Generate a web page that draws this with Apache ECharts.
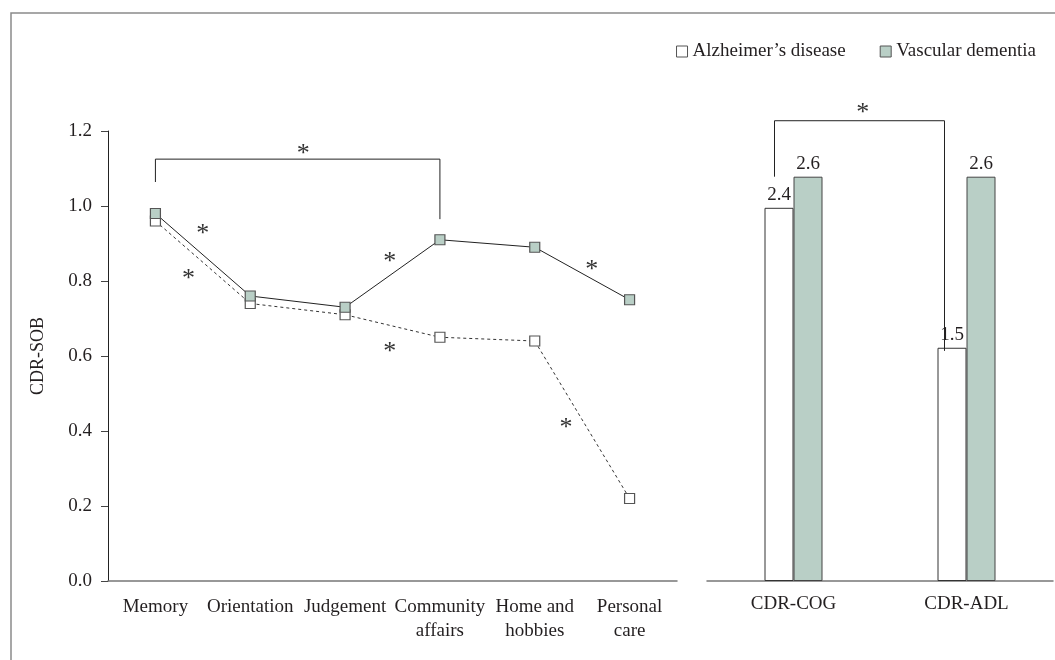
<!DOCTYPE html>
<html>
<head>
<meta charset="utf-8">
<script src="https://cdn.jsdelivr.net/npm/echarts@6/dist/echarts.min.js"></script>
<style>
html,body{margin:0;padding:0;background:#fff}
#main{width:1055px;height:660px}
</style>
</head>
<body>
<div id="main"></div>
<script>
var domains=['Memory','Orientation','Judgement','Community\naffairs','Home and\nhobbies','Personal\ncare']
var adLine=[0.96,0.74,0.71,0.65,0.64,0.22]
var vdLine=[0.98,0.76,0.73,0.91,0.89,0.75]
var cdrCats=['CDR-COG','CDR-ADL']
var adBar=[2.4,1.5]
var vdBar=[2.6,2.6]
var names=['Alzheimer\u2019s disease','Vascular dementia']

// significance marks, [category position, value]
var starsLeft=[[1.56,1.155],[0.5,0.94],[0.35,0.82],[2.47,0.867],[2.47,0.627],[4.6,0.845],[4.33,0.424]]
var bracketLeft={from:0,to:3,top:1.125,fromEnd:1.064,toEnd:0.965}
var bracketRight={top:2.96,fromEnd:2.6,toEnd:1.48}
var starRight=[0.4,3.05]

var font='Liberation Serif, DejaVu Serif, serif'
var ink='#231f20'
var green='#b9cfc6'

var myChart=echarts.init(document.getElementById('main'))

var option={
	animation:false,
	backgroundColor:'#fff',
	legend:{
		orient:'horizontal',
		right:14,
		top:37,
		icon:'rect',
		itemWidth:11,
		itemHeight:11,
		itemGap:34,
		textStyle:{fontFamily:font,fontSize:19,color:ink},
		data:[
			{name:names[0],itemStyle:{color:'#fff',borderColor:'#555',borderWidth:1}},
			{name:names[1],itemStyle:{color:green,borderColor:'#555',borderWidth:1}}
		]
	},
	grid:[
		{left:108,top:131,width:569,height:450},
		{left:707,top:114.5,width:346,height:466.5}
	],
	xAxis:[
		{
			type:'category',gridIndex:0,data:domains,
			axisLine:{lineStyle:{color:'#777',width:1.5}},
			axisTick:{show:false},
			axisLabel:{interval:0,margin:14,fontFamily:font,fontSize:19,color:ink,lineHeight:24}
		},
		{
			type:'category',gridIndex:1,data:cdrCats,
			axisLine:{lineStyle:{color:'#777',width:1.5}},
			axisTick:{show:false},
			axisLabel:{interval:0,margin:14,fontFamily:font,fontSize:19,color:ink}
		}
	],
	yAxis:[
		{
			type:'value',gridIndex:0,min:0,max:1.2,interval:0.2,
			name:'CDR-SOB',nameLocation:'middle',nameGap:61,nameRotate:90,
			nameTextStyle:{fontFamily:font,fontSize:18,color:ink},
			axisLine:{show:true,lineStyle:{color:'#222',width:1}},
			axisTick:{show:true,length:7,lineStyle:{color:'#444'}},
			splitLine:{show:false},
			axisLabel:{margin:16,fontFamily:font,fontSize:19,color:ink,formatter:function(v){return v.toFixed(1)}}
		},
		{type:'value',gridIndex:1,min:0,max:3,show:false}
	],
	series:[
		{
			name:names[0],type:'line',xAxisIndex:0,yAxisIndex:0,data:adLine,
			symbol:'rect',symbolSize:10,
			itemStyle:{color:'#fff',borderColor:'#555',borderWidth:1.2},
			lineStyle:{color:'#333',width:1,type:[3,3]}
		},
		{
			name:names[1],type:'line',xAxisIndex:0,yAxisIndex:0,data:vdLine,
			symbol:'rect',symbolSize:10,
			itemStyle:{color:green,borderColor:'#555',borderWidth:1.2},
			lineStyle:{color:'#222',width:1}
		},
		{
			name:names[0],type:'bar',xAxisIndex:1,yAxisIndex:1,data:adBar,
			barWidth:29,barGap:'0%',
			itemStyle:{color:'#fff',borderColor:'#333',borderWidth:1},
			label:{show:true,position:'top',distance:3,fontFamily:font,fontSize:19,color:ink,formatter:function(p){return p.value.toFixed(1)}}
		},
		{
			name:names[1],type:'bar',xAxisIndex:1,yAxisIndex:1,data:vdBar,
			barWidth:29,barGap:'0%',
			itemStyle:{color:green,borderColor:'#444',borderWidth:1},
			label:{show:true,position:'top',distance:3,fontFamily:font,fontSize:19,color:ink,formatter:function(p){return p.value.toFixed(1)}}
		}
	]
}
myChart.setOption(option)

//分类轴上的小数位置
function catX(axis,f){
	var i=Math.floor(f),t=f-i
	var a=myChart.convertToPixel({xAxisIndex:axis},i)
	var b=myChart.convertToPixel({xAxisIndex:axis},i+1)
	return a+(b-a)*t
}
function valY(axis,v){
	return myChart.convertToPixel({yAxisIndex:axis},v)
}
function star(x,y){
	return {type:'text',x:x,y:y+6,z:10,style:{text:'*',font:'26px '+font,fill:'#333',align:'center',verticalAlign:'middle'}}
}
function bracket(x1,y1,x2,y2,top){
	return {type:'polyline',z:10,shape:{points:[[x1,y1],[x1,top],[x2,top],[x2,y2]]},style:{stroke:'#222',lineWidth:1,fill:null}}
}
function eachOf(arr,fn){for(var i=0;i<arr.length;i++)fn(arr[i],i)}

function drawMarks(){
	var g=[]
	g.push({type:'polyline',shape:{points:[[11,660],[11,13],[1055,13]]},style:{stroke:'#8a8a8a',lineWidth:1.5,fill:null}})
	var bl=bracketLeft
	g.push(bracket(catX(0,bl.from),valY(0,bl.fromEnd),catX(0,bl.to),valY(0,bl.toEnd),valY(0,bl.top)))
	eachOf(starsLeft,function(s){g.push(star(catX(0,s[0]),valY(0,s[1])))})
	var br=bracketRight
	g.push(bracket(catX(1,0)-19,valY(1,br.fromEnd),catX(1,1)-22,valY(1,br.toEnd),valY(1,br.top)))
	g.push(star(catX(1,starRight[0]),valY(1,starRight[1])))
	myChart.setOption({graphic:g})
}

drawMarks()
</script>
</body>
</html>
